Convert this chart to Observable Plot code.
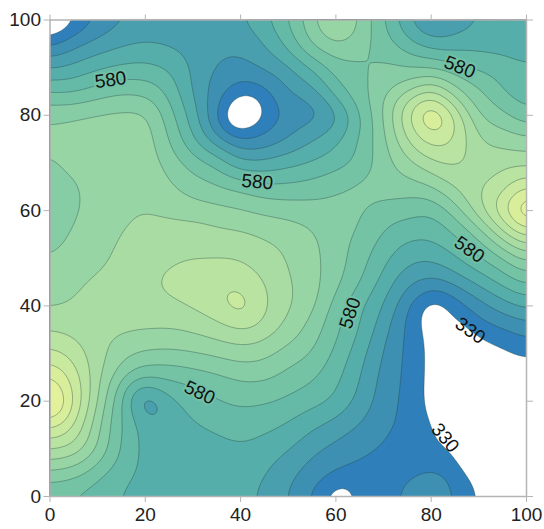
<!DOCTYPE html>
<html><head><meta charset="utf-8">
<script src="https://cdn.jsdelivr.net/npm/d3@7"></script>
<script src="https://cdn.jsdelivr.net/npm/@observablehq/plot@0.6"></script>
<style>html,body{margin:0;padding:0;background:#fff}svg{display:block}</style>
</head><body><div id="chart"></div>
<script>
const xs = [0,5,10,15,20,25,30,35,40,45,50,55,60,65,70,75,80,85,90,95,100];
const y100 = [220,315,380,423,437,445,452,460,475,520,585,672,770,672,578,480,395,445,482,495,505];
const y95  = [365,415,445,472,485,470,455,440,438,478,545,650,690,650,605,540,500,507,510,508,505];
const y90  = [478,495,525,540,545,525,470,428,412,438,465,530,612,628,645,635,632,590,565,555,535];
const y85  = [578,570,600,625,618,565,470,400,340,365,430,455,565,615,665,725,800,695,640,570,555];
const y80  = [675,680,690,695,700,605,505,370,190,330,390,395,445,570,680,835,990,840,665,650,580];
const y75  = [695,705,710,715,715,630,535,445,375,385,428,478,520,590,665,795,865,825,728,705,690];
const y70  = [670,695,705,712,715,665,610,575,485,490,515,535,555,590,662,715,772,790,750,765,760];
const y65  = [660,672,700,715,722,690,655,640,620,590,590,600,625,650,660,660,675,735,770,800,880];
const y60  = [640,672,700,720,732,722,705,695,688,670,660,655,655,640,610,600,575,650,770,880,1030];
const y55  = [650,690,708,732,745,755,765,745,740,725,715,690,650,628,575,540,540,580,635,770,860];
const y50  = [680,700,715,745,755,770,778,782,778,750,728,695,655,605,540,495,484,525,580,622,695];
const y45  = [705,722,740,755,770,800,808,815,820,785,735,700,645,585,513,432,415,445,495,545,595];
const y40  = [722,735,750,760,770,765,788,815,880,790,738,700,605,535,480,385,270,345,405,455,493];
const y35  = [780,765,750,740,732,730,738,760,785,760,712,660,590,532,445,372,300,300,350,368,400];
const y30  = [850,815,750,700,675,668,678,690,705,695,655,630,570,500,425,370,318,240,300,320,345];
const y25  = [950,870,745,640,580,585,600,615,640,640,610,590,545,482,410,370,318,220,230,270,280];
const y20  = [1060,885,735,580,385,515,545,578,590,585,570,550,528,465,405,365,320,200,190,200,220];
const y15  = [900,835,690,575,505,510,528,540,556,545,527,490,460,430,395,365,345,270,180,170,180];
const y10  = [785,770,675,570,510,500,505,512,525,510,485,440,415,390,375,350,345,330,220,170,160];
const y5   = [670,650,595,545,515,505,505,505,500,485,445,405,380,365,360,370,385,360,310,200,160];
const y0   = [575,565,545,528,505,500,495,495,490,475,425,372,270,350,360,395,450,365,345,240,170];
const rowYs = [100,95,90,85,80,75,70,65,60,55,50,45,40,35,30,25,20,15,10,5,0];
const rows = [y100,y95,y90,y85,y80,y75,y70,y65,y60,y55,y50,y45,y40,y35,y30,y25,y20,y15,y10,y5,y0];

const levels = [330,380,430,480,530,580,630,680,730,780,830,880,930,980];
const bandColors = ["#2f80ba","#3e90b2","#4a9fae","#56aeaa","#64baa7","#74c3a5","#86cda5","#98d5a4","#a9dca2","#b9e3a0","#c9e99e","#d8ee9b","#e3f29a","#eef69a"];

const labelX = [12.7,43.5,86,88,63,31.4,88.2,82.9];
const labelY = [87.4,66,90.1,51.8,38.5,21.8,34.8,12.3];
const labelText = ["580","580","580","580","580","580","330","330"];
const labelAngle = [-8,5,22,35,-72,25,35,50];
const ticks = [0,20,40,60,80,100];

const points = rows.flatMap((r,j) => r.map((v,i) => ({x:xs[i], y:rowYs[j], v})));
const labels = labelText.map((t,i) => ({x:labelX[i], y:labelY[i], t, a:labelAngle[i]}));
const grey = "#b4b4b4";
const tf = {fontSize:19, fontFamily:"Liberation Sans"};

const chart = Plot.plot({
  width:544, height:529,
  marginLeft:49.5, marginRight:18, marginTop:19.5, marginBottom:33,
  style:{background:"#fff", fontFamily:"Liberation Sans", overflow:"visible"},
  x:{domain:[0,100]}, y:{domain:[0,100]},
  color:{type:"threshold", domain:levels.slice(1), range:bandColors},
  marks:[
    Plot.contour(points,{x:"x",y:"y",fill:"v",thresholds:levels,interpolate:"barycentric",pixelSize:1,blur:10,stroke:"#23403f",strokeOpacity:0.55,strokeWidth:0.7}),
    Plot.text(labels.filter(d=>d.t==="580"),{x:"x",y:"y",text:"t",rotate:"a",fontSize:19,fontFamily:"Liberation Sans",fill:"#111",stroke:"#70c0a6",strokeWidth:4}),
    Plot.text(labels.filter(d=>d.t==="330"),{x:"x",y:"y",text:"t",rotate:"a",fontSize:19,fontFamily:"Liberation Sans",fill:"#111"}),
    Plot.frame({stroke:grey,strokeWidth:1.5}),
    Plot.axisX(ticks,{anchor:"bottom",label:null,tickSize:6,tickPadding:5,stroke:grey,fill:"#222",...tf}),
    Plot.axisY(ticks,{anchor:"left",label:null,tickSize:6,tickPadding:3,stroke:grey,fill:"#222",...tf}),
    Plot.axisX(ticks,{anchor:"top",label:null,tickSize:6,tickFormat:()=>"",stroke:grey}),
    Plot.axisY(ticks,{anchor:"right",label:null,tickSize:6,tickFormat:()=>"",stroke:grey})
  ]
});
document.getElementById("chart").append(chart);
</script>
</body></html>
